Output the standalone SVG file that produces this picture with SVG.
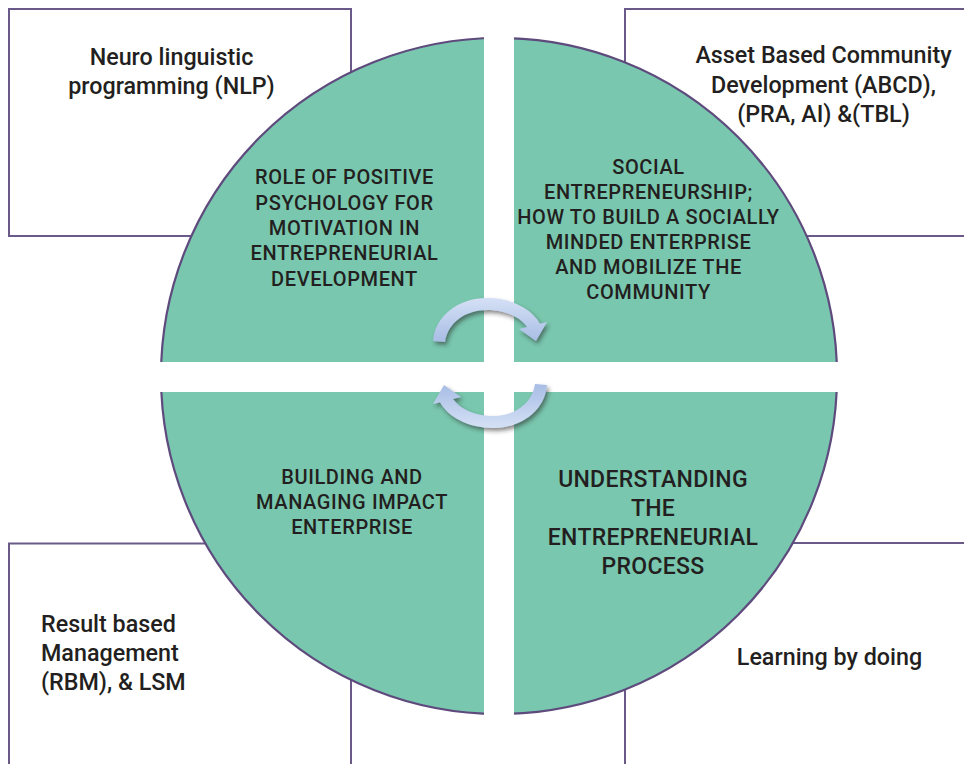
<svg xmlns="http://www.w3.org/2000/svg" width="964" height="764" viewBox="0 0 964 764">
<defs>
<style>
.box{fill:#ffffff;stroke:#6a5a8a;stroke-width:2}
.corner{font-family:Roboto,"Liberation Sans",sans-serif;font-size:23.3px;font-weight:500;fill:#231f20}
.quad{font-family:Roboto,"Liberation Sans",sans-serif;font-size:20px;font-weight:500;letter-spacing:0.6px;fill:#231f20;text-anchor:middle}
.big{font-size:23px;letter-spacing:0.3px}
.mid{text-anchor:middle}
</style>
<clipPath id="circ"><circle cx="499" cy="376" r="340"/></clipPath>
<linearGradient id="ag" x1="0" y1="0" x2="0" y2="1">
<stop offset="0" stop-color="#d4e0f5"/>
<stop offset="1" stop-color="#a8bde5"/>
</linearGradient>
<filter id="sh" x="-20%" y="-30%" width="140%" height="170%">
<feDropShadow dx="2" dy="3" stdDeviation="2" flood-color="#2a2a2a" flood-opacity="0.55"/>
</filter>
<path id="arr" d="M 433,341 C 435,316 458,298 487,298 C 512,298 532,309 540,323.7 L 547,322 L 536,341 L 519,329 L 527,327 C 520,317 505,310 487,310 C 466,310 448,322 445,342 Z"/>
</defs>

<g id="box-nlp">
<rect class="box" x="9" y="9" width="342" height="227"/>
<text class="corner mid" x="171.5" y="65">Neuro linguistic</text>
<text class="corner mid" x="171.5" y="94">programming (NLP)</text>
</g>
<g id="box-abcd">
<rect class="box" x="625" y="9" width="400" height="227"/>
<text class="corner mid" x="823.5" y="63">Asset Based Community</text>
<text class="corner mid" x="823.5" y="92.5">Development (ABCD),</text>
<text class="corner mid" x="823.5" y="121.5">(PRA, AI) &amp;(TBL)</text>
</g>
<g id="box-rbm">
<rect class="box" x="9" y="543.5" width="342" height="300"/>
<text class="corner" x="41" y="632">Result based</text>
<text class="corner" x="41" y="661">Management</text>
<text class="corner" x="41" y="690">(RBM), &amp; LSM</text>
</g>
<g id="box-lbd">
<rect class="box" x="625" y="543" width="400" height="300"/>
<text class="corner mid" x="829.5" y="665">Learning by doing</text>
</g>

<g id="circle">
<circle cx="499" cy="376" r="338" fill="#79c7ae" stroke="#5e4a7d" stroke-width="2.2"/>
<g clip-path="url(#circ)" fill="#ffffff">
<rect x="484" y="30" width="30" height="700"/>
<rect x="150" y="362" width="700" height="30"/>
</g>
</g>

<g id="q-tl">
<text class="quad" x="344.5" y="184">ROLE OF POSITIVE</text>
<text class="quad" x="344.5" y="209.5">PSYCHOLOGY FOR</text>
<text class="quad" x="344.5" y="235">MOTIVATION IN</text>
<text class="quad" x="344.5" y="260.3">ENTREPRENEURIAL</text>
<text class="quad" x="344.5" y="285.5">DEVELOPMENT</text>
</g>
<g id="q-tr">
<text class="quad" x="648.5" y="173.5">SOCIAL</text>
<text class="quad" x="648.5" y="198.5">ENTREPRENEURSHIP;</text>
<text class="quad" x="648.5" y="223.5">HOW TO BUILD A SOCIALLY</text>
<text class="quad" x="648.5" y="248.5">MINDED ENTERPRISE</text>
<text class="quad" x="648.5" y="273.5">AND MOBILIZE THE</text>
<text class="quad" x="648.5" y="298.5">COMMUNITY</text>
</g>
<g id="q-bl">
<text class="quad" x="352" y="484">BUILDING AND</text>
<text class="quad" x="352" y="509">MANAGING IMPACT</text>
<text class="quad" x="352" y="534">ENTERPRISE</text>
</g>
<g id="q-br">
<text class="quad big" x="653" y="486.7">UNDERSTANDING</text>
<text class="quad big" x="653" y="515.7">THE</text>
<text class="quad big" x="653" y="544.7">ENTREPRENEURIAL</text>
<text class="quad big" x="653" y="573.7">PROCESS</text>
</g>

<g id="connectors" filter="url(#sh)" fill="url(#ag)">
<use href="#arr"/>
<use href="#arr" transform="rotate(180 490 363)"/>
</g>
</svg>
